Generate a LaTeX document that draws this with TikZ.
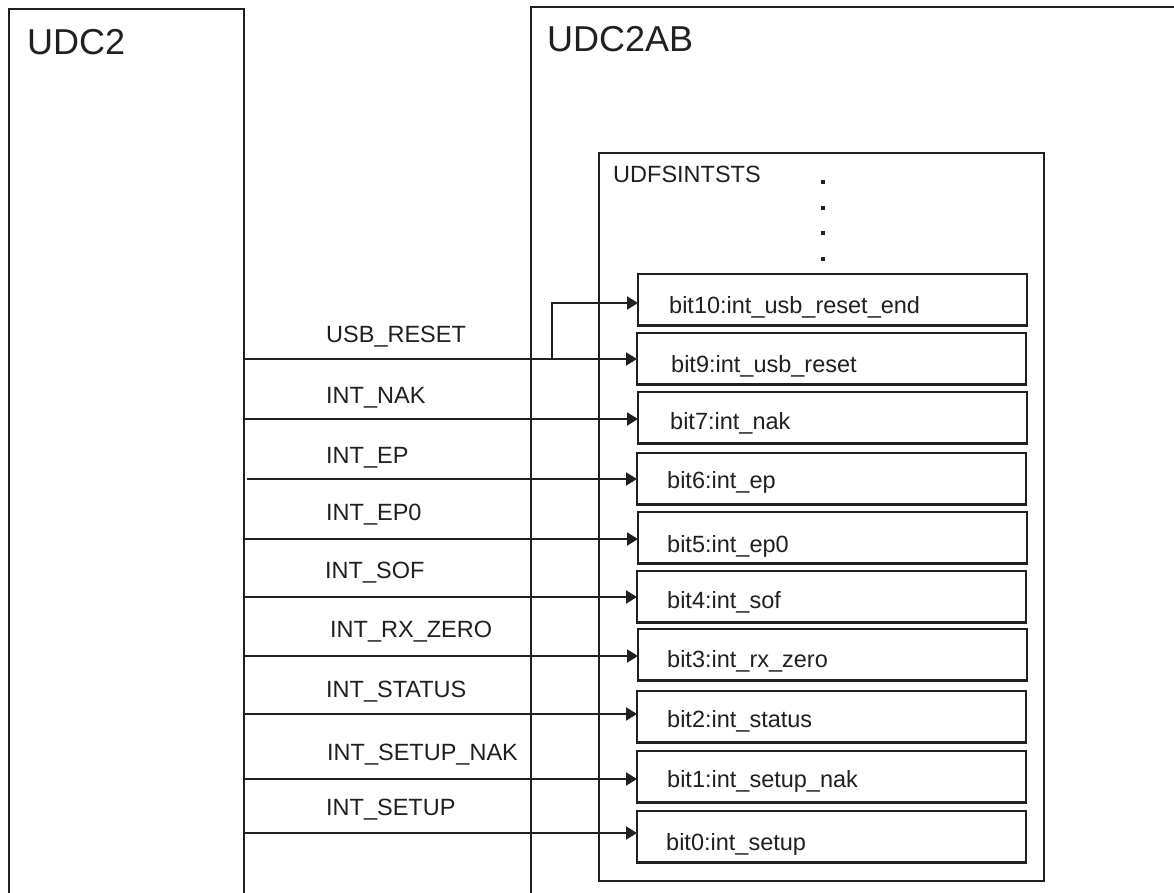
\documentclass[tikz,border=0pt]{standalone}
\usepackage{fontspec}
\setmainfont{Liberation Sans}
\usetikzlibrary{arrows.meta}
\definecolor{ink}{HTML}{231F20}
\begin{document}
\begin{tikzpicture}[x=1pt,y=-1pt,
  frame/.style={draw=ink, line width=2pt, inner sep=0pt, outer sep=0pt, anchor=north west},
  bitbox/.style={draw=ink, line width=2.3pt, minimum width=389pt, minimum height=51.5pt, anchor=north west, inner sep=0pt, outer sep=0pt},
  lbl/.style={anchor=base west, inner sep=0pt, text=ink, font=\fontsize{23.5}{28}\selectfont},
  title/.style={anchor=base west, inner sep=0pt, text=ink, font=\fontsize{36}{40}\selectfont},
  sig/.style={draw=ink, line width=2pt, -{Triangle[length=11pt,width=13pt]}},
  dotmark/.style={fill=ink, minimum size=4pt, inner sep=0pt, outer sep=0pt}]
\clip (0,0) rectangle (1174,893);
\fill[white] (0,0) rectangle (1174,893);
% outer blocks
\node[frame, minimum width=235pt, minimum height=900pt] (udc2) at (9,9) {};
\node[frame, minimum width=700pt, minimum height=900pt] (udc2ab) at (531,7) {};
\node[frame, minimum width=445pt, minimum height=728pt] (reg) at (599,153) {};
\node[title] (tudc2) at (27,55) {UDC2};
\node[title] (tudc2ab) at (547,52) {UDC2AB};
\node[lbl] (treg) at (613,183) {UDFSINTSTS};
% dots
\node[dotmark] (d1) at (823,182) {};
\node[dotmark] (d2) at (823,208) {};
\node[dotmark] (d3) at (823,233) {};
\node[dotmark] (d4) at (823,259) {};
% bit boxes
\node[bitbox] (b10) at (638,274) {};
\node[bitbox] (b9) at (637,333) {};
\node[bitbox] (b7) at (638,392) {};
\node[bitbox] (b6) at (637,453) {};
\node[bitbox] (b5) at (638,512) {};
\node[bitbox] (b4) at (637,571) {};
\node[bitbox] (b3) at (638,629) {};
\node[bitbox] (b2) at (637,691) {};
\node[bitbox] (b1) at (637,751) {};
\node[bitbox] (b0) at (637,811) {};
\node[lbl] (tb10) at (669,313) {bit10:int\_usb\_reset\_end};
\node[lbl] (tb9) at (671,372) {bit9:int\_usb\_reset};
\node[lbl] (tb7) at (670,429) {bit7:int\_nak};
\node[lbl] (tb6) at (667,488) {bit6:int\_ep};
\node[lbl] (tb5) at (667,552) {bit5:int\_ep0};
\node[lbl] (tb4) at (667,608) {bit4:int\_sof};
\node[lbl] (tb3) at (667,667) {bit3:int\_rx\_zero};
\node[lbl] (tb2) at (667,727) {bit2:int\_status};
\node[lbl] (tb1) at (667,787) {bit1:int\_setup\_nak};
\node[lbl] (tb0) at (666,850) {bit0:int\_setup};
% signal start points
\coordinate (s9) at (244,359);
\coordinate (s7) at (244,419);
\coordinate (s6) at (247,479);
\coordinate (s5) at (244,539);
\coordinate (s4) at (244,597);
\coordinate (s3) at (244,656);
\coordinate (s2) at (244,714);
\coordinate (s1) at (244,779);
\coordinate (s0) at (244,833);
\coordinate (br) at (552,359);
\coordinate (e10) at (638,303);
% connectors
\draw[sig] (s9) -- (s9 -| b9.west);
\draw[sig] (br) |- (e10);
\draw[sig] (s7) -- (s7 -| b7.west);
\draw[sig] (s6) -- (s6 -| b6.west);
\draw[sig] (s5) -- (s5 -| b5.west);
\draw[sig] (s4) -- (s4 -| b4.west);
\draw[sig] (s3) -- (s3 -| b3.west);
\draw[sig] (s2) -- (s2 -| b2.west);
\draw[sig] (s1) -- (s1 -| b1.west);
\draw[sig] (s0) -- (s0 -| b0.west);
% signal labels
\node[lbl] (l9) at (326,342) {USB\_RESET};
\node[lbl] (l7) at (326,403) {INT\_NAK};
\node[lbl] (l6) at (326,463) {INT\_EP};
\node[lbl] (l5) at (326,520) {INT\_EP0};
\node[lbl] (l4) at (325,578) {INT\_SOF};
\node[lbl] (l3) at (330,637) {INT\_RX\_ZERO};
\node[lbl] (l2) at (326,697) {INT\_STATUS};
\node[lbl] (l1) at (327,760) {INT\_SETUP\_NAK};
\node[lbl] (l0) at (326,815) {INT\_SETUP};
\end{tikzpicture}
\end{document}
